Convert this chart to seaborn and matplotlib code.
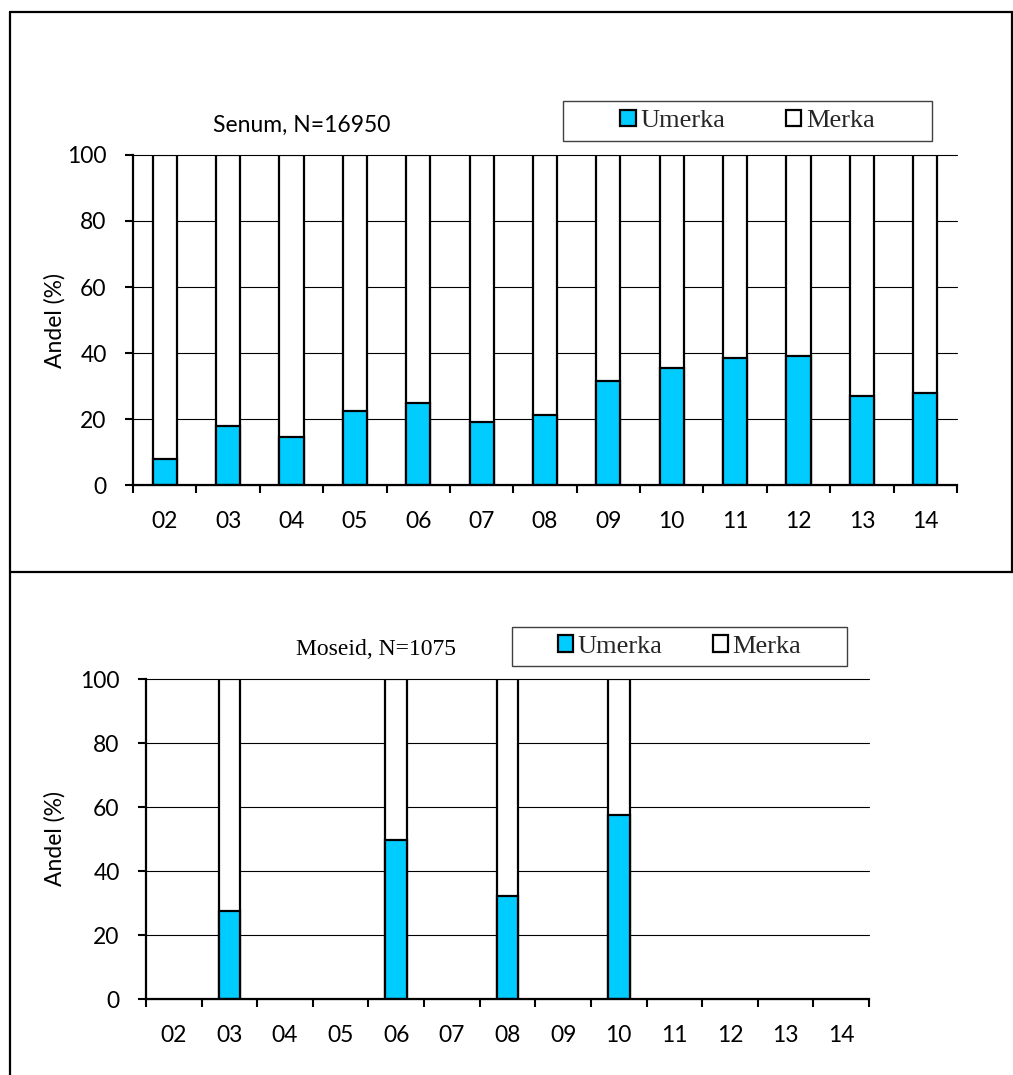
import numpy as np
import pandas as pd
import matplotlib
matplotlib.use("Agg")
import matplotlib.pyplot as plt
import seaborn as sns
from matplotlib.patches import Patch, Rectangle
from matplotlib.lines import Line2D

# ---- data -------------------------------------------------------------
years = ["02", "03", "04", "05", "06", "07", "08", "09", "10", "11", "12", "13", "14"]

senum_years = years
senum_umerka = [7.8, 18.0, 14.6, 22.3, 24.8, 19.2, 21.2, 31.5, 35.6, 38.4, 39.2, 27.0, 27.8]

moseid_years = ["03", "06", "08", "10"]
moseid_umerka = [27.6, 49.8, 32.1, 57.6]

senum_title = "Senum, N=16950"
moseid_title = "Moseid, N=1075"
series_labels = ["Umerka", "Merka"]
y_label = "Andel (%)"
y_ticks = [0, 20, 40, 60, 80, 100]

# ---- style ------------------------------------------------------------
CYAN = "#00CCFF"
W, H = 1013, 1075
SANS_SIZE = 16.5
sns.set_theme(style="ticks")
plt.rcParams["font.family"] = ["Lato", "DejaVu Sans"]

fig = plt.figure(figsize=(W / 100, H / 100), dpi=100)
fig.patch.set_facecolor("white")


def px_box(x0, y0, x1, y1):
    """Pixel box (top-left origin) -> figure fraction [left, bottom, width, height]."""
    return [x0 / W, 1 - y1 / H, (x1 - x0) / W, (y1 - y0) / H]


def draw_panel(ax, yrs, umerka, bar_width):
    df = pd.DataFrame({"År": yrs, "Umerka": umerka})
    df["Merka"] = 100 - df["Umerka"]
    df["Sum"] = df["Umerka"] + df["Merka"]

    # stacked bars: full column (Merka on top) then the Umerka part
    sns.barplot(data=df, x="År", y="Sum", order=years, color="white",
                edgecolor="black", linewidth=1.6, width=bar_width,
                saturation=1, errorbar=None, ax=ax, zorder=3)
    sns.barplot(data=df, x="År", y="Umerka", order=years, color=CYAN,
                edgecolor="black", linewidth=1.6, width=bar_width,
                saturation=1, errorbar=None, ax=ax, zorder=4)

    ax.set_xlim(-0.5, len(years) - 0.5)
    ax.set_ylim(0, 100)
    ax.set_yticks(y_ticks)
    ax.set_yticklabels([str(t) for t in y_ticks])
    ax.set_xticks(range(len(years)))
    ax.set_xticklabels(years)
    ax.set_xticks(np.arange(-0.5, len(years), 1.0), minor=True)
    ax.set_xlabel("")

    ax.yaxis.grid(True, color="black", linewidth=0.8)
    ax.set_axisbelow(True)
    for gl in ax.yaxis.get_gridlines():
        gl.set_clip_on(False)

    sns.despine(ax=ax, top=True, right=True)
    for side in ("left", "bottom"):
        ax.spines[side].set_linewidth(1.6)
        ax.spines[side].set_color("black")
        ax.spines[side].set_zorder(5)

    ax.tick_params(axis="x", which="major", length=0, pad=19,
                   labelsize=SANS_SIZE, colors="black")
    ax.tick_params(axis="x", which="minor", length=6, width=1.5,
                   direction="out", color="black", bottom=True)
    ax.tick_params(axis="y", which="major", length=6, width=1.5, pad=13,
                   direction="out", labelsize=SANS_SIZE, colors="black", left=True)

    ax.set_ylabel(y_label, fontsize=SANS_SIZE, color="black", va="center")
    ax.set_facecolor("white")


# ---- top panel: Senum --------------------------------------------------
ax1 = fig.add_axes(px_box(133, 155, 957, 485))
draw_panel(ax1, senum_years, senum_umerka, 0.38)
ax1.yaxis.set_label_coords((55 - 133) / 824, 0.5)
ax1.text((302 - 133) / 824, 1.091, senum_title, transform=ax1.transAxes,
         ha="center", va="center", fontsize=SANS_SIZE, color="black")

# ---- bottom panel: Moseid ----------------------------------------------
ax2 = fig.add_axes(px_box(146, 679, 869, 999))
draw_panel(ax2, moseid_years, moseid_umerka, 0.39)
ax2.yaxis.set_label_coords((55 - 146) / 723, 0.5)
ax2.text((376 - 146) / 723, 1.091, moseid_title, transform=ax2.transAxes,
         ha="center", va="center", fontsize=17, color="black",
         family="Liberation Serif")

# ---- legends -----------------------------------------------------------
handles = [Patch(facecolor=CYAN, edgecolor="black", linewidth=1.6),
           Patch(facecolor="white", edgecolor="black", linewidth=1.6)]


def boxed_legend(ax, box, colspace):
    x0, y0, x1, y1 = box
    fig.add_artist(Rectangle((x0 / W, 1 - y1 / H), (x1 - x0) / W, (y1 - y0) / H,
                             transform=fig.transFigure, fill=False,
                             edgecolor="#404040", linewidth=1.0))
    ax.legend(handles, series_labels, loc="center",
              bbox_to_anchor=((x0 + x1) / 2 / W, 1 - (y0 + y1) / 2 / H),
              bbox_transform=fig.transFigure, ncol=2, frameon=False,
              prop={"family": "Liberation Serif", "size": 19},
              handlelength=0.58, handleheight=0.58, handletextpad=0.18,
              columnspacing=colspace, borderpad=0, borderaxespad=0)


boxed_legend(ax1, (563, 101, 932, 141), 2.3)
boxed_legend(ax2, (512, 627, 847, 666), 1.9)

# ---- outer frame ------------------------------------------------------
frame_kw = dict(transform=fig.transFigure, color="black", linewidth=1.6)
fig.add_artist(Line2D([9.5 / W, 9.5 / W], [1 - 11.5 / H, 0], **frame_kw))
fig.add_artist(Line2D([9.5 / W, 1], [1 - 11.5 / H, 1 - 11.5 / H], **frame_kw))
fig.add_artist(Line2D([9.5 / W, 1], [1 - 572 / H, 1 - 572 / H], **frame_kw))
fig.add_artist(Line2D([1012 / W, 1012 / W], [1 - 11.5 / H, 1 - 572 / H], **frame_kw))

fig.savefig("out.png", dpi=100, facecolor="white")
